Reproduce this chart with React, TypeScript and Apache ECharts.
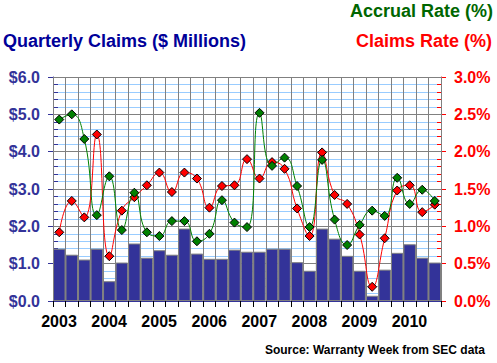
import React, { useEffect, useRef } from "react";
import * as echarts from "echarts";

const quarters = [
  "2003 Q1", "2003 Q2", "2003 Q3", "2003 Q4",
  "2004 Q1", "2004 Q2", "2004 Q3", "2004 Q4",
  "2005 Q1", "2005 Q2", "2005 Q3", "2005 Q4",
  "2006 Q1", "2006 Q2", "2006 Q3", "2006 Q4",
  "2007 Q1", "2007 Q2", "2007 Q3", "2007 Q4",
  "2008 Q1", "2008 Q2", "2008 Q3", "2008 Q4",
  "2009 Q1", "2009 Q2", "2009 Q3", "2009 Q4",
  "2010 Q1", "2010 Q2", "2010 Q3",
];
const years = ["2003", "2004", "2005", "2006", "2007", "2008", "2009", "2010"];

// $ millions
const claims = [
  1.40, 1.24, 1.11, 1.40, 0.53, 1.03, 1.54, 1.16, 1.36, 1.24, 1.94, 1.27,
  1.13, 1.13, 1.375, 1.32, 1.32, 1.40, 1.40, 1.04, 0.81, 1.94, 1.67, 1.21,
  0.81, 0.14, 0.84, 1.29, 1.52, 1.16, 1.03,
];
// percent
const accrualRate = [
  2.43, 2.50, 2.17, 1.15, 1.67, 0.95, 1.45, 0.92, 0.87, 1.07, 1.07, 0.80,
  0.90, 1.35, 1.05, 0.99, 2.52, 1.81, 1.92, 1.54, 0.99, 1.89, 1.09, 0.75,
  1.02, 1.21, 1.14, 1.65, 1.30, 1.49, 1.34,
];
const claimsRate = [
  0.92, 1.34, 1.12, 2.23, 0.60, 1.21, 1.39, 1.55, 1.72, 1.46, 1.72, 1.64,
  1.25, 1.54, 1.55, 1.90, 1.64, 1.86, 1.77, 1.24, 0.87, 1.99, 1.42, 1.30,
  0.89, 0.19, 0.84, 1.48, 1.55, 1.19, 1.29,
];

const FONT = "'Liberation Sans', Arial, sans-serif";
const NAVY = "#333399";
const GRAY = "#808080";
const LIGHT = "#99ccff";

export default function App() {
  const ref = useRef<HTMLDivElement>(null);
  useEffect(() => {
    if (!ref.current) return;
    const chart = echarts.init(ref.current, undefined, { renderer: "svg" });
    chart.setOption({
      animation: false,
      backgroundColor: "#ffffff",
      grid: { left: 53, right: 56, top: 77, bottom: 62, containLabel: false },
      graphic: [
        {
          type: "text", right: 4, top: 2,
          style: { text: "Accrual Rate (%)", fill: "#006600", font: `bold 18px ${FONT}` },
        },
        {
          type: "text", left: 3, top: 32,
          style: { text: "Quarterly Claims ($ Millions)", fill: "#000099", font: `bold 18px ${FONT}` },
        },
        {
          type: "text", right: 5, top: 32,
          style: { text: "Claims Rate (%)", fill: "#ff0000", font: `bold 18px ${FONT}` },
        },
        {
          type: "text", right: 12, top: 344,
          style: { text: "Source: Warranty Week from SEC data", fill: "#000000", font: `bold 12px ${FONT}` },
        },
      ],
      xAxis: [
        {
          type: "category",
          data: quarters,
          boundaryGap: true,
          z: 3,
          axisLine: { show: true, lineStyle: { color: NAVY, width: 1 } },
          axisTick: { show: true, interval: 0, length: 6, lineStyle: { color: "#000000" } },
          axisLabel: { show: false },
          splitLine: { show: true, interval: 0, lineStyle: { color: GRAY, width: 1 } },
        },
        {
          type: "value",
          min: 0,
          max: quarters.length,
          interval: 4,
          position: "bottom",
          axisLine: { show: false },
          axisTick: { show: false },
          splitLine: { show: false },
          axisLabel: {
            show: true,
            margin: 12,
            padding: [0, 0, 0, 12],
            color: "#000000",
            fontFamily: FONT,
            fontWeight: "bold",
            fontSize: 16,
            showMaxLabel: false,
            formatter: (v: number) => (v % 4 === 0 && v / 4 < years.length ? years[v / 4] : ""),
          },
        },
      ],
      yAxis: [
        {
          type: "value",
          min: 0, max: 6, interval: 1,
          position: "left",
          z: 1,
          axisLine: { show: true, lineStyle: { color: NAVY } },
          axisTick: { show: true, length: 5, lineStyle: { color: NAVY } },
          axisLabel: {
            margin: 13, color: NAVY, fontFamily: FONT, fontWeight: "bold", fontSize: 16,
            formatter: (v: number) => "$" + v.toFixed(1),
          },
          splitLine: { show: true, lineStyle: { color: GRAY, width: 1 } },
        },
        {
          type: "value",
          min: 0, max: 3, interval: 0.5,
          position: "right",
          z: 1,
          axisLine: { show: true, lineStyle: { color: "#ff0000" } },
          axisTick: { show: true, length: 5, lineStyle: { color: "#ff0000" } },
          axisLabel: {
            margin: 13, color: "#ff0000", fontFamily: FONT, fontWeight: "bold", fontSize: 16,
            formatter: (v: number) => v.toFixed(1) + "%",
          },
          splitLine: { show: false },
        },
        {
          type: "value",
          min: 0, max: 30, interval: 1,
          position: "left",
          z: 0,
          axisLine: { show: false },
          axisTick: { show: true, inside: true, length: 5, lineStyle: { color: NAVY } },
          axisLabel: { show: false },
          splitLine: { show: true, lineStyle: { color: LIGHT, width: 1 } },
        },
        {
          type: "value",
          min: 0, max: 30, interval: 1,
          position: "right",
          z: 0,
          axisLine: { show: false },
          axisTick: { show: true, inside: true, length: 4, lineStyle: { color: "#ff0000" } },
          axisLabel: { show: false },
          splitLine: { show: false },
        },
      ],
      series: [
        {
          name: "Quarterly Claims",
          type: "bar",
          xAxisIndex: 0,
          yAxisIndex: 0,
          data: claims,
          barCategoryGap: "0%",
          z: 2,
          itemStyle: { color: NAVY, borderColor: GRAY, borderWidth: 1 },
        },
        {
          name: "Claims Rate",
          type: "line",
          xAxisIndex: 0,
          yAxisIndex: 1,
          data: claimsRate,
          smooth: 0.5,
          z: 5,
          symbol: "diamond",
          symbolSize: 9,
          showSymbol: true,
          showAllSymbol: true,
          lineStyle: { color: "#ff0000", width: 1 },
          itemStyle: { color: "#ff0000", borderColor: "#000000", borderWidth: 1 },
        },
        {
          name: "Accrual Rate",
          type: "line",
          xAxisIndex: 0,
          yAxisIndex: 1,
          data: accrualRate,
          smooth: 0.5,
          z: 6,
          symbol: "diamond",
          symbolSize: 9,
          showSymbol: true,
          showAllSymbol: true,
          lineStyle: { color: "#008000", width: 1 },
          itemStyle: { color: "#008000", borderColor: "#000000", borderWidth: 1 },
        },
      ],
    });
    return () => chart.dispose();
  }, []);
  return (
    <div
      ref={ref}
      style={{ position: "absolute", left: 0, top: 0, width: 497, height: 363 }}
    />
  );
}
